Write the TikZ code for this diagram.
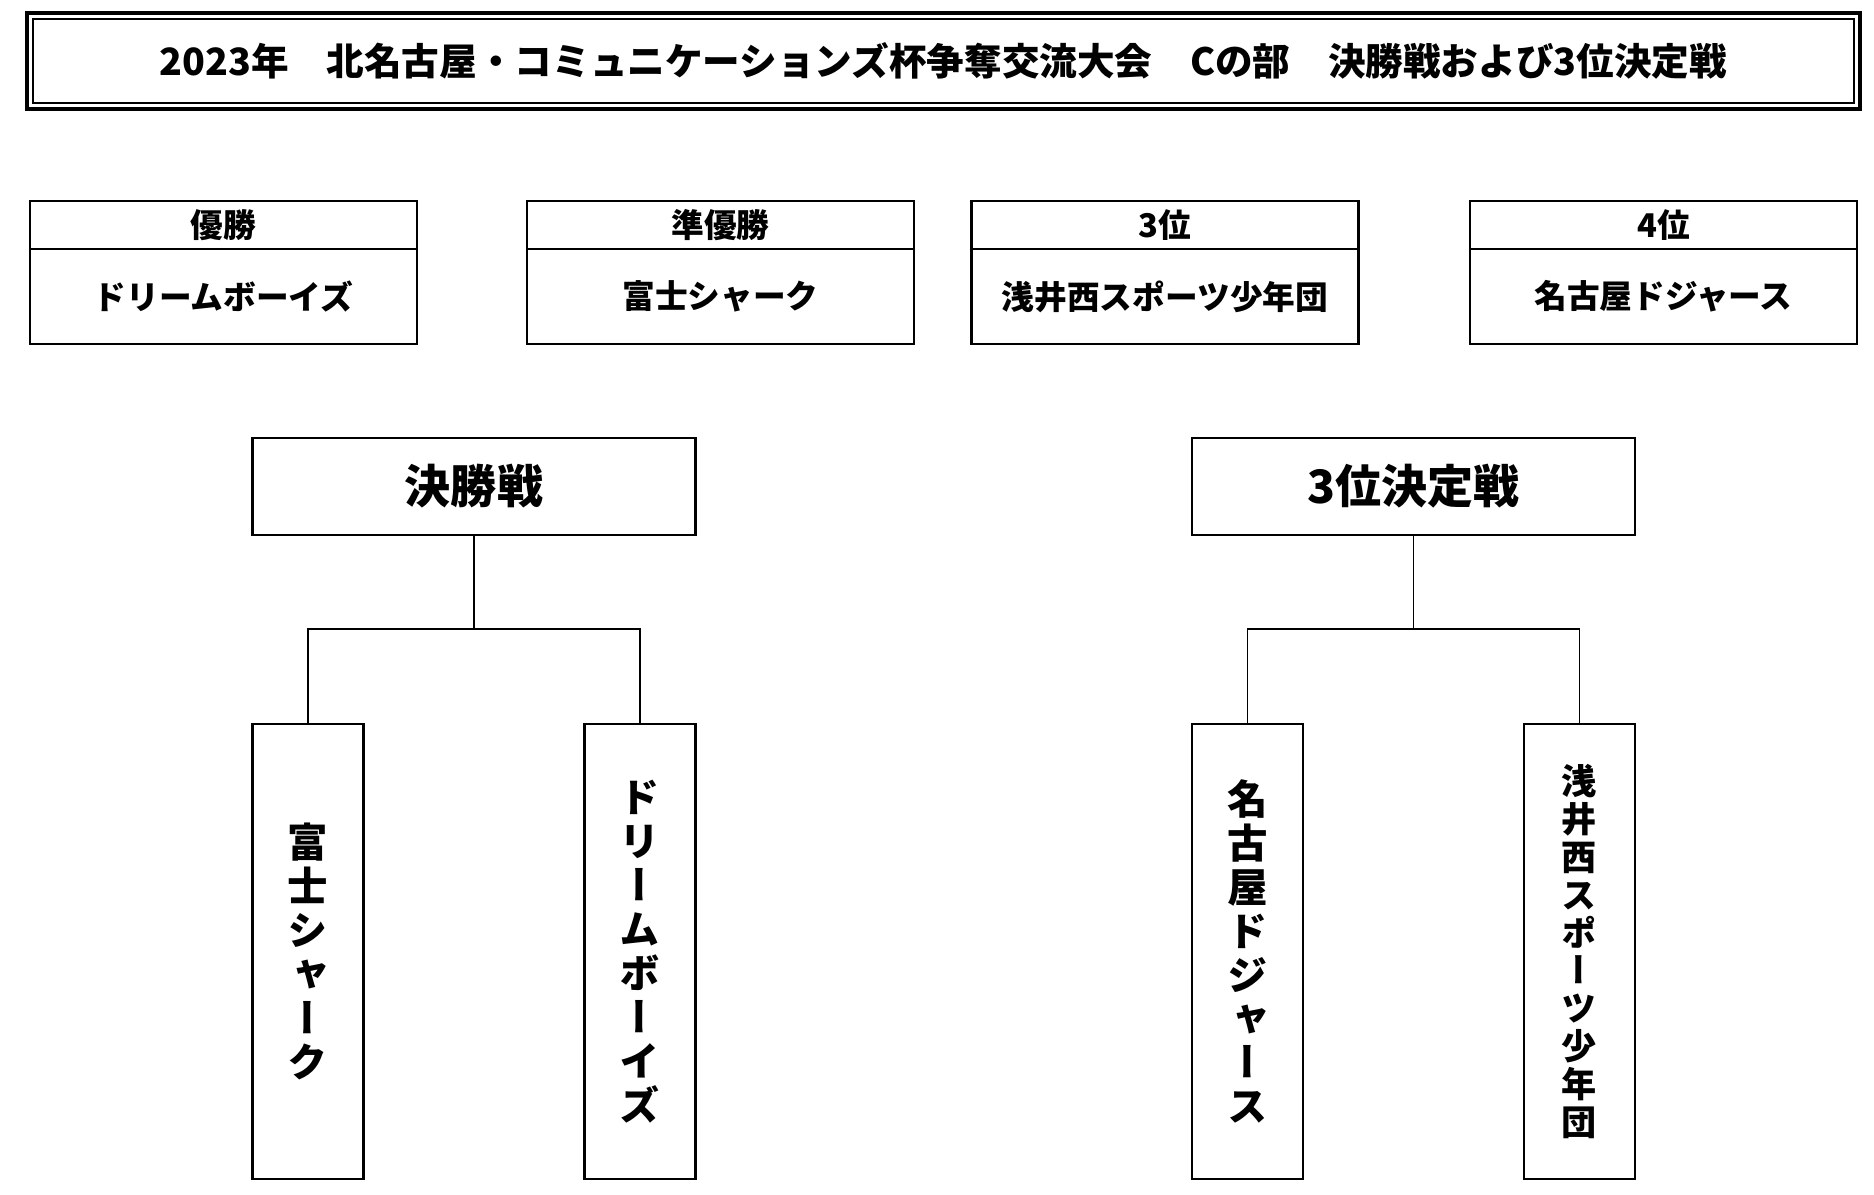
\documentclass[tikz,border=0pt]{standalone}
\usepackage{fontspec}
\setmainfont{Noto Sans CJK JP}
\newfontfamily\tatefont[RawFeature=+vert]{Noto Sans CJK JP}
\usetikzlibrary{positioning}

\begin{document}
\begin{tikzpicture}[
    cell/.style={draw, line width=0.8pt, inner sep=0pt, outer sep=0pt,
                 font=\bfseries\fontsize{9.3}{11}\selectfont},
    titlebox/.style={cell, line width=1.1pt,
                     minimum width=18.33cm, minimum height=0.96cm,
                     font=\bfseries\fontsize{10.7}{13}\selectfont},
    rhead/.style={cell, line width=0.6pt,
                  minimum width=3.87cm, minimum height=0.48cm},
    rbody/.style={cell, line width=0.6pt,
                  minimum width=3.87cm, minimum height=0.95cm},
    matchbox/.style={cell, minimum width=4.43cm, minimum height=0.97cm,
                     font=\bfseries\fontsize{13.1}{15}\selectfont},
    teambox/.style={cell, minimum width=1.11cm, minimum height=4.55cm,
                    align=center,
                    font=\tatefont\bfseries\fontsize{11.5}{12.5}\selectfont},
    link/.style={draw, line width=0.3pt},
  ]
    \useasboundingbox (0,0) rectangle (18.74,-11.94);

    % Title
    \node[titlebox] (title) at (9.435,-0.61)
      {2023年　北名古屋・コミュニケーションズ杯争奪交流大会　Cの部　決勝戦および3位決定戦};
    \draw[line width=0.5pt] ([shift={(0.06,-0.06)}]title.north west)
      rectangle ([shift={(-0.06,0.06)}]title.south east);

    % Final standings
    \foreach \x/\id/\rank/\team in {2.235/win/優勝/ドリームボーイズ,
                                    7.205/second/準優勝/富士シャーク,
                                    11.65/third/3位/浅井西スポーツ少年団,
                                    16.635/fourth/4位/名古屋ドジャース} {
      \node[rhead] (\id-head) at (\x,-2.25) {\rank};
      \node[rbody, below=0pt of \id-head] (\id-body) {\team};
    }

    % Matches
    \node[matchbox] (final) at (4.74,-4.865) {決勝戦};
    \node[matchbox] (playoff) at (14.135,-4.865) {3位決定戦};

    \node[teambox, below=1.89cm of final.south west, anchor=north west] (fuji)
      {富\\士\\シ\\ャ\\ー\\ク};
    \node[teambox, below=1.89cm of final.south east, anchor=north east] (dream)
      {ド\\リ\\ー\\ム\\ボ\\ー\\イ\\ズ};
    \node[teambox, below=1.89cm of playoff.south west, anchor=north west] (dodgers)
      {名\\古\\屋\\ド\\ジ\\ャ\\ー\\ス};
    \node[teambox, below=1.89cm of playoff.south east, anchor=north east,
          font=\tatefont\bfseries\fontsize{10}{10.8}\selectfont] (asai)
      {浅\\井\\西\\ス\\ポ\\ー\\ツ\\少\\年\\団};

    % Bracket lines
    \draw[link] (final.south) -- ++(0,-0.94) coordinate (fsplit);
    \draw[link] (fsplit) -| (fuji.north);
    \draw[link] (fsplit) -| (dream.north);
    \draw[link] (playoff.south) -- ++(0,-0.94) coordinate (psplit);
    \draw[link] (psplit) -| (dodgers.north);
    \draw[link] (psplit) -| (asai.north);
  \end{tikzpicture}
\end{document}
